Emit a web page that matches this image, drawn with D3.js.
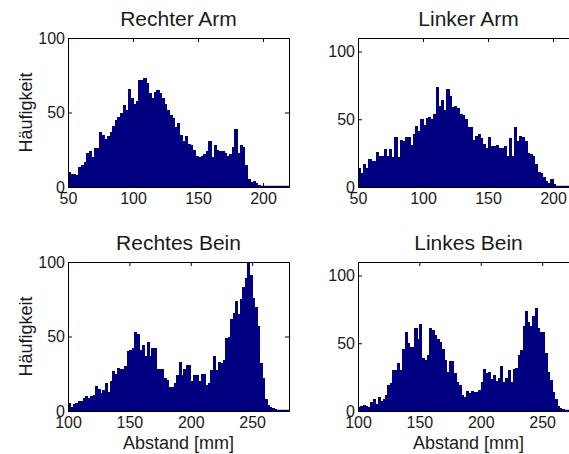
<!DOCTYPE html>
<html>
<head>
<meta charset="utf-8">
<script src="https://cdn.jsdelivr.net/npm/d3@7"></script>
<style>
  body { margin: 0; background: #fff; }
  svg { display: block; font-family: "Liberation Sans", Arial, sans-serif; }
  .tick text { fill: #1a1a1a; }
</style>
</head>
<body>
<script>
// histogram bins, 2 mm wide, heights
const binWidth = 2

const titles = ["Rechter Arm", "Linker Arm", "Rechtes Bein", "Linkes Bein"]
const xLabel = "Abstand [mm]"
const yLabel = "Häufigkeit"

const armStart = 50
const legStart = 100
const armDomain = [50, 220]
const legDomain = [100, 280]
const armTicks = [50, 100, 150, 200]
const legTicks = [100, 150, 200, 250]
const yTicks = [0, 50, 100]

const rechterArm = [10, 8.5, 8.5, 8, 13.5, 15, 17, 23, 24, 20, 26, 26, 37, 35, 32, 34, 37, 41, 45, 47,
  50, 55, 52, 66, 60, 56, 58, 72, 72, 73, 70, 63, 60, 64, 65, 63, 60, 56, 52, 48,
  46, 40, 43, 35, 31, 34, 29, 28, 25, 21, 20, 21, 22, 24, 31, 20, 28, 25, 24, 24,
  23, 21, 22, 27, 39, 23, 28, 27, 15, 5.5, 3.5, 4, 3, 1.5, 1]

const linkerArm = [14, 10, 17, 14, 21, 19, 19, 26, 23, 23, 28, 23, 28, 22, 37, 22, 35, 34, 37, 37,
  31, 39, 45, 41, 50, 46, 51, 52, 50, 54, 74, 60, 64, 57, 72, 67, 59, 60, 58, 54,
  53, 50, 44, 44, 35, 38, 39, 36, 32, 29, 37, 30, 30, 31, 29, 29, 30, 23, 36, 23,
  44, 34, 38, 37, 34, 25, 24, 23, 17, 11, 10, 7.5, 4.5, 3, 6, 2]

const rechtesBein = [5.5, 3, 4.5, 5.5, 6.5, 7, 8.5, 10, 9, 10, 11, 17, 14.5, 12, 14, 18.5, 12.5, 20, 27, 25,
  29, 28, 28, 30, 40, 41, 42, 53, 52, 41, 44, 37, 46, 37, 42, 42, 28, 28, 28, 22,
  20.5, 16, 16, 18.5, 24, 33, 24, 28, 31, 31, 20, 24, 24, 20, 25, 25, 17.5, 18.5, 27.5, 37,
  27.5, 33, 32, 34, 49, 50, 61.5, 66, 74, 65, 75, 83, 89, 100, 91, 76, 70, 57, 32, 22,
  8, 4, 3, 2, 1.5]

const linkesBein = [3, 3.5, 4.2, 3.8, 3, 6.5, 9, 5.5, 10, 7.5, 9, 11.5, 19, 21, 30, 30, 35.5, 30, 46, 58,
  50, 47, 47, 61, 53, 64, 39, 38, 41, 61, 60, 56, 53, 51, 46, 38, 29, 37, 37, 28,
  21.5, 19, 11.5, 10.5, 14.5, 13, 15, 14, 14, 15.5, 21.5, 31, 28, 28.5, 23.5, 26.5, 22.5, 24, 33, 21.5,
  24, 30, 21.5, 31, 31.5, 41, 45, 63, 74, 66, 63, 70, 76, 61, 58, 58, 43, 29, 23, 14,
  9, 4, 2.5, 1.7, 1]

const panels = [
  {title: titles[0], values: rechterArm, start: armStart, domain: armDomain, ticks: armTicks, yMax: 100, left: 68, top: 38, xl: false, yl: true},
  {title: titles[1], values: linkerArm, start: armStart, domain: armDomain, ticks: armTicks, yMax: 110, left: 358, top: 38, xl: false, yl: false},
  {title: titles[2], values: rechtesBein, start: legStart, domain: legDomain, ticks: legTicks, yMax: 100, left: 68, top: 262, xl: true, yl: true},
  {title: titles[3], values: linkesBein, start: legStart, domain: legDomain, ticks: legTicks, yMax: 110, left: 358, top: 262, xl: true, yl: false}
]

let w = 569, h = 454
let pw = 221, ph = 149
let barColor = "#000080"

let svg = d3.select("body").append("svg")
  .attr("width", w)
  .attr("height", h)

panels.forEach(p=>{
  let g = svg.append("g").attr("transform", `translate(${p.left}, ${p.top})`)
  let x = d3.scaleLinear().domain(p.domain).range([0, pw])
  let y = d3.scaleLinear().domain([0, p.yMax]).range([ph, 0])
  let bins = p.values.map((v,i)=>({x0: p.start + i*binWidth, x1: p.start + (i+1)*binWidth, v: v}))

  g.selectAll("rect.bar")
    .data(bins)
    .enter()
    .append("rect")
    .attr("class", "bar")
    .attr("x", d=>x(d.x0))
    .attr("y", d=>y(d.v))
    .attr("width", d=>x(d.x1)-x(d.x0)+0.6)
    .attr("height", d=>y(0)-y(d.v))
    .attr("fill", barColor)
    .attr("shape-rendering", "crispEdges")

  // zero bins show up as a line on the baseline
  g.append("line")
    .attr("x1", x(p.domain[0])).attr("x2", x(p.domain[1]))
    .attr("y1", y(0)-0.5).attr("y2", y(0)-0.5)
    .attr("stroke", barColor)
    .attr("stroke-width", 1.5)

  let axes = [
    [d3.axisBottom(x).tickValues(p.ticks).tickSize(-4).tickPadding(6), `translate(0, ${ph})`, true],
    [d3.axisTop(x).tickValues(p.ticks).tickSize(-4).tickFormat(""), "translate(0, 0)", false],
    [d3.axisLeft(y).tickValues(yTicks).tickSize(-4).tickPadding(3), "translate(0, 0)", true],
    [d3.axisRight(y).tickValues(yTicks).tickSize(-4).tickFormat(""), `translate(${pw}, 0)`, false]
  ]
  axes.forEach(a=>{
    let ax = g.append("g").attr("transform", a[1]).call(a[0])
    ax.select(".domain").remove()
    ax.selectAll("line").attr("stroke", "#000")
    ax.selectAll("text").attr("font-size", 16).attr("font-family", "Liberation Sans, Arial, sans-serif")
  })

  g.append("rect")
    .attr("x", 0.5).attr("y", 0.5)
    .attr("width", pw).attr("height", ph)
    .attr("fill", "none")
    .attr("stroke", "#000")
    .attr("stroke-width", 1)

  g.append("text")
    .attr("x", pw/2)
    .attr("y", -12)
    .attr("text-anchor", "middle")
    .attr("font-size", 21)
    .attr("fill", "#1a1a1a")
    .text(p.title)

  if(p.yl){
    g.append("text")
      .attr("transform", `translate(${-36}, ${ph/2}) rotate(-90)`)
      .attr("text-anchor", "middle")
      .attr("font-size", 18)
      .attr("fill", "#1a1a1a")
      .text(yLabel)
  }
  if(p.xl){
    g.append("text")
      .attr("x", pw/2)
      .attr("y", ph + 38)
      .attr("text-anchor", "middle")
      .attr("font-size", 18)
      .attr("fill", "#1a1a1a")
      .text(xLabel)
  }
})
</script>
</body>
</html>
